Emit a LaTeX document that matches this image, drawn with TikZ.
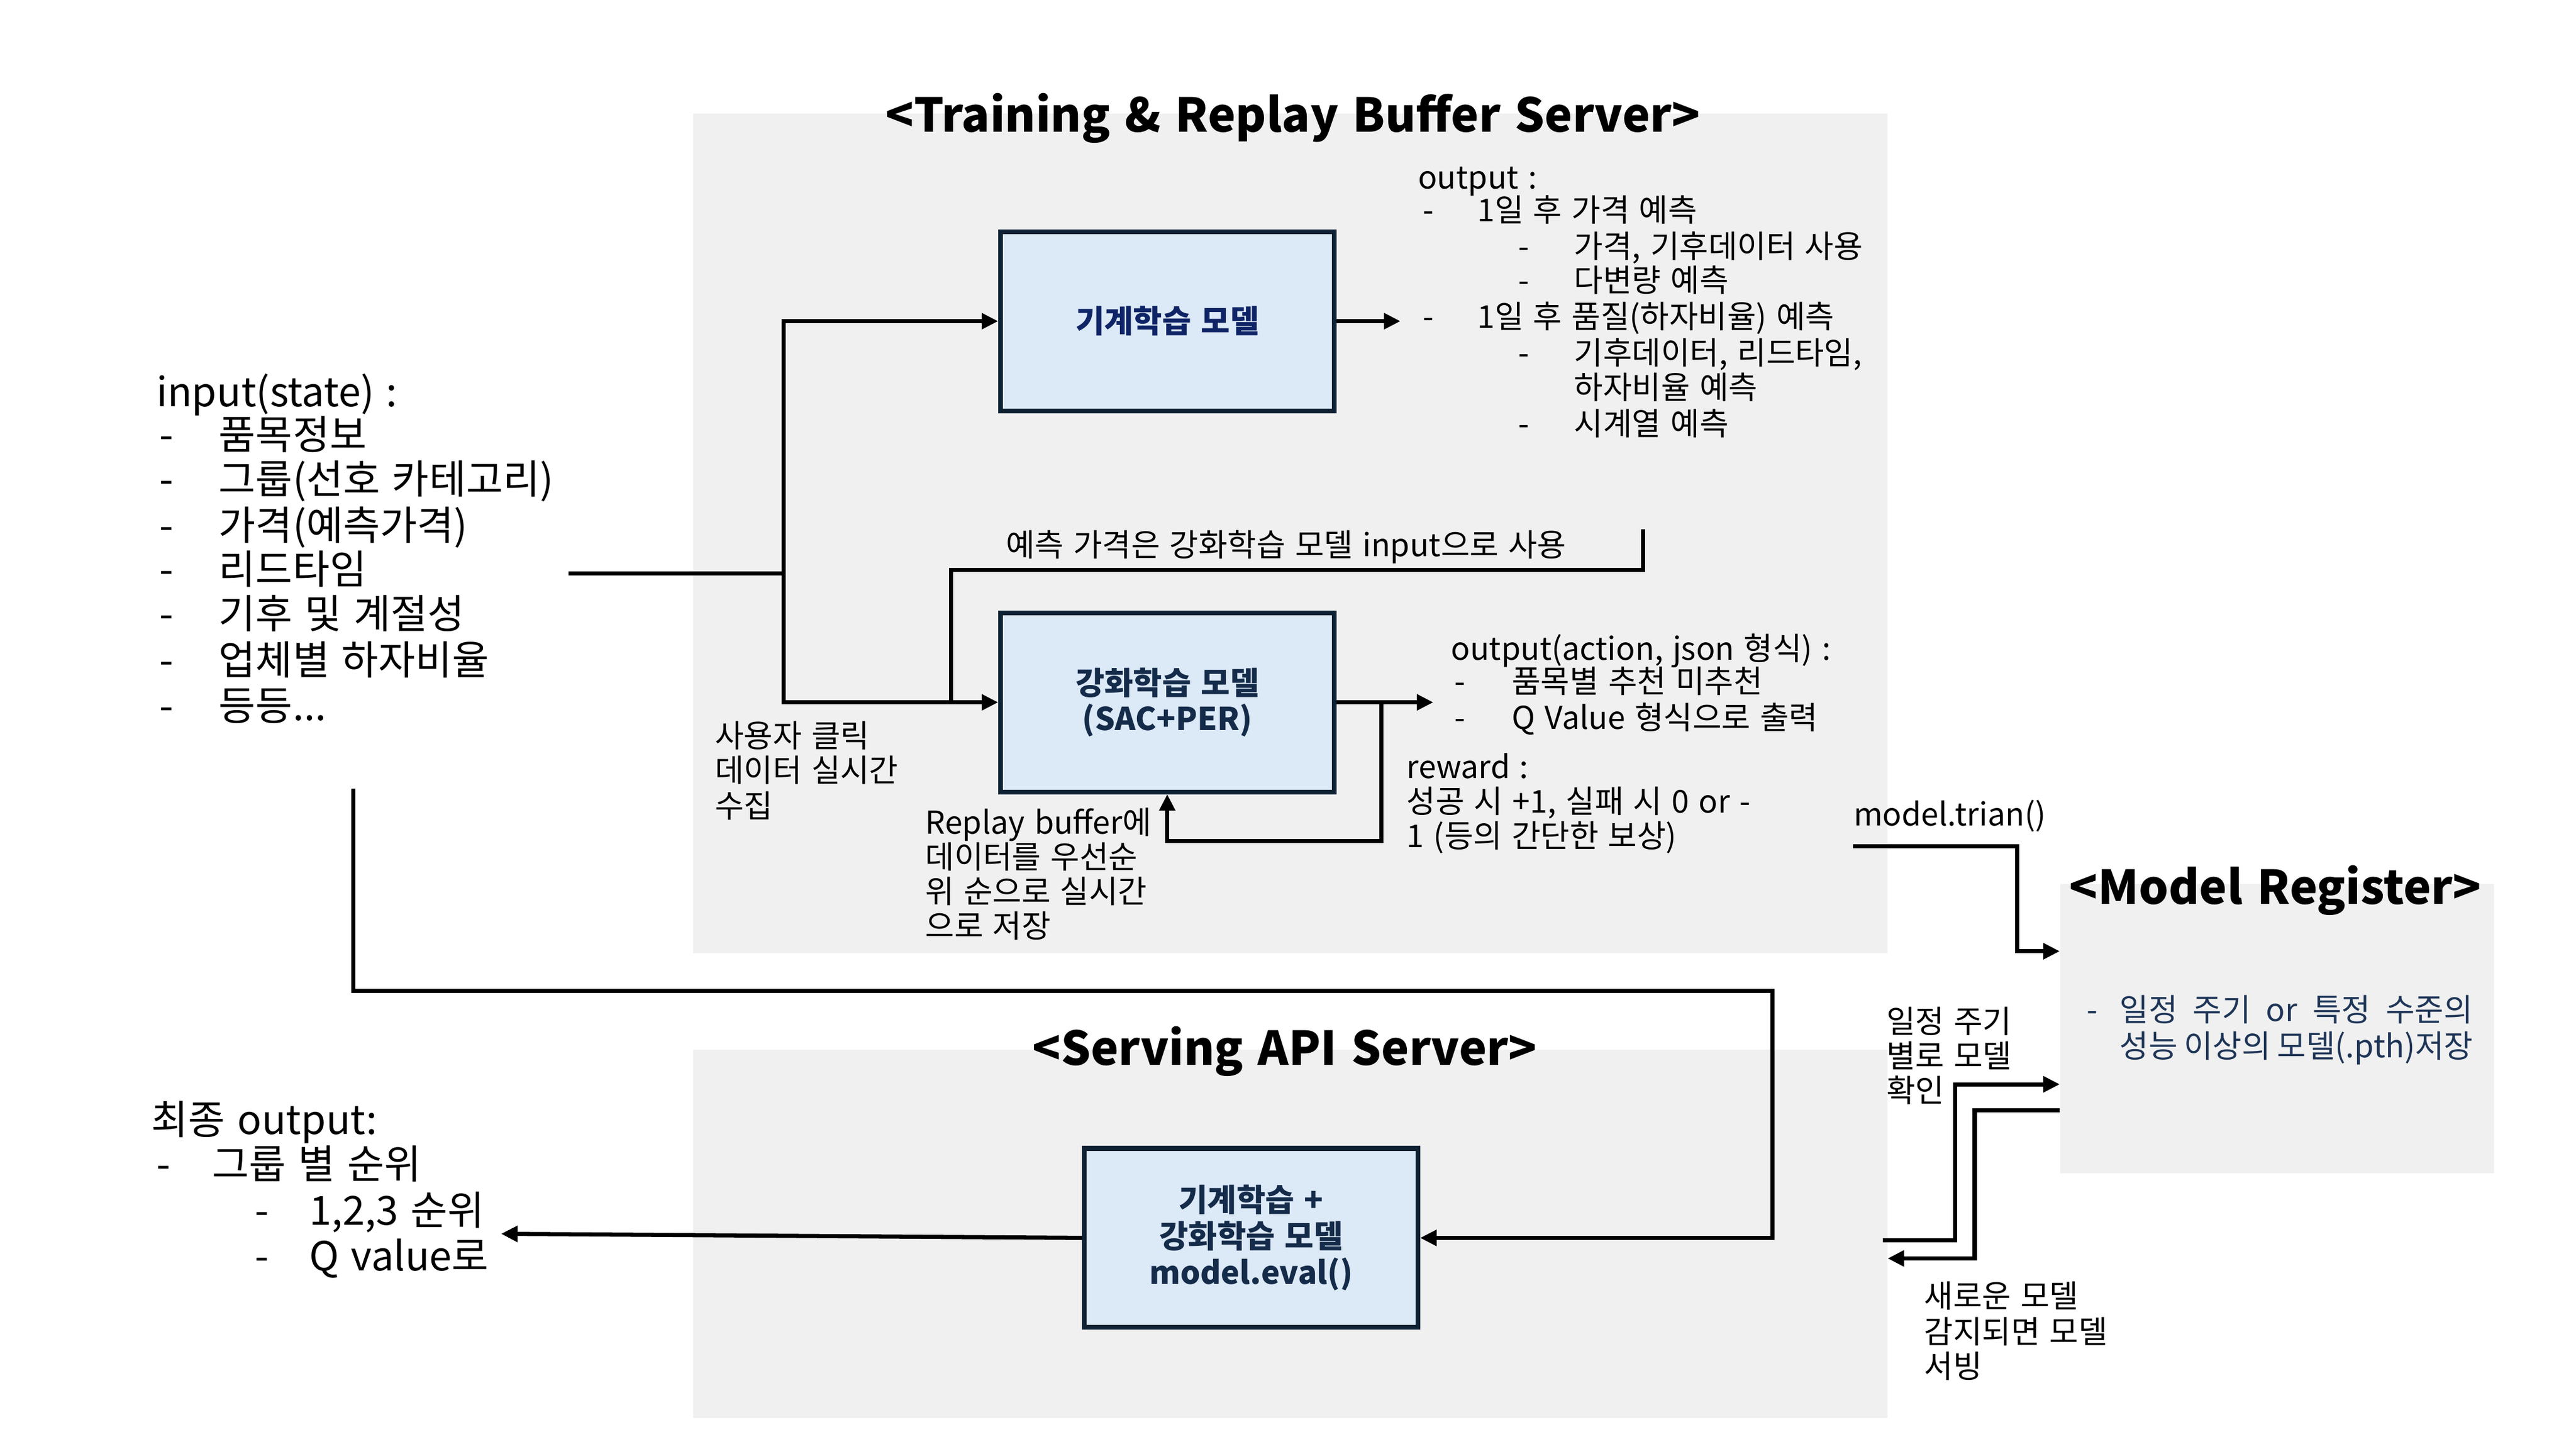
\documentclass[tikz,border=0pt]{standalone}
\usepackage{fontspec}
\newfontfamily\kr[WordSpace=1.35]{Noto Sans CJK KR}
\usetikzlibrary{arrows.meta}
\definecolor{panelgray}{HTML}{F0F0F0}
\definecolor{boxfill}{HTML}{DCE9F6}
\definecolor{boxline}{HTML}{0E2233}
\definecolor{boxtxtA}{HTML}{0F2466}
\definecolor{boxtxtB}{HTML}{142B4A}
\definecolor{regtxt}{HTML}{1E3557}
\tikzset{
  panel/.style={fill=panelgray, draw=none, inner sep=0pt, rectangle},
  mbox/.style={fill=boxfill, draw=boxline, line width=2.3pt, inner sep=0pt, align=center,
               minimum width=5.696cm, minimum height=3.059cm,
               font=\kr\bfseries\fontsize{15.3}{17.6}\selectfont},
  ttl/.style={anchor=base, inner sep=0pt, font=\kr\bfseries\fontsize{22.7}{27}\selectfont},
  sm/.style={anchor=base west, inner sep=0pt, font=\kr\fontsize{15.3}{17}\selectfont},
  bg/.style={anchor=base west, inner sep=0pt, font=\kr\fontsize{19.5}{21.7}\selectfont},
  conn/.style={line width=2pt, draw=black},
  arr/.style={conn, -{Triangle[length=8pt,width=7.5pt]}},
}
\begin{document}
\begin{tikzpicture}[x=0.02806cm, y=-0.02806cm]
\useasboundingbox (0,0) rectangle (1568,882);
\fill[white] (0,0) rectangle (1568,882);

% panels
\node[panel, minimum width=20.40cm, minimum height=14.34cm] (train) at (785.5,324.5) {};
\node[panel, minimum width=20.40cm, minimum height=6.285cm] (serve) at (785.5,751) {};
\node[panel, minimum width=7.408cm, minimum height=4.939cm] (reg) at (1386,626) {};

% titles
\node[ttl] (t1) at (787,80.5) {<Training \& Replay Buffer Server>};
\node[ttl] (t2) at (782,648.5) {<Serving API Server>};
\node[ttl] (t3) at (1385,550.5) {<Model Register>};

% boxes
\node[mbox, text=boxtxtA] (b1) at (710.5,195.5) {기계학습 모델};
\node[mbox, text=boxtxtB] (b2) at (710.5,427.5) {강화학습 모델\\(SAC+PER)};
\node[mbox, text=boxtxtB, minimum height=3.059cm] (b3) at (761.5,753.5) {기계학습 +\\강화학습 모델\\model.eval()};

% input block
\node[bg] (in0) at (95,247.6) {input(state) :};
\node[bg] (ind1) at (97,273.6) {-};  \node[bg] (in1) at (133,273.6) {품목정보};
\node[bg] (ind2) at (97,300.6) {-};  \node[bg] (in2) at (133,300.6) {그룹(선호 카테고리)};
\node[bg] (ind3) at (97,328.6) {-};  \node[bg] (in3) at (133,328.6) {가격(예측가격)};
\node[bg] (ind4) at (97,355.6) {-};  \node[bg] (in4) at (133,355.6) {리드타임};
\node[bg] (ind5) at (97,382.6) {-};  \node[bg] (in5) at (133,382.6) {기후 및 계절성};
\node[bg] (ind6) at (97,410.6) {-};  \node[bg] (in6) at (133,410.6) {업체별 하자비율};
\node[bg] (ind7) at (97,438.6) {-};  \node[bg] (in7) at (133,438.6) {등등...};

% ML output block
\node[sm] (o0) at (863,114.8) {output :};
\node[sm] (od1) at (866,134.8) {-}; \node[sm] (o1) at (899,134.8) {1일 후 가격 예측};
\node[sm] (od2) at (924,156.8) {-}; \node[sm] (o2) at (958,156.8) {가격, 기후데이터 사용};
\node[sm] (od3) at (924,177.8) {-}; \node[sm] (o3) at (958,177.8) {다변량 예측};
\node[sm] (od4) at (866,199.8) {-}; \node[sm] (o4) at (899,199.8) {1일 후 품질(하자비율) 예측};
\node[sm] (od5) at (924,221.8) {-}; \node[sm] (o5) at (958,221.8) {기후데이터, 리드타임,};
\node[sm] (o6) at (958,242.8) {하자비율 예측};
\node[sm] (od7) at (924,264.8) {-}; \node[sm] (o7) at (958,264.8) {시계열 예측};

\node[sm] (pred) at (612,338.8) {예측 가격은 강화학습 모델 input으로 사용};

% RL output block
\node[sm] (r0) at (883,401.8) {output(action, json 형식) :};
\node[sm] (rd1) at (885,421.8) {-}; \node[sm] (r1) at (920,421.8) {품목별 추천 미추천};
\node[sm] (rd2) at (885,443.8) {-}; \node[sm] (r2) at (920,443.8) {Q Value 형식으로 출력};
\node[sm] (rw0) at (856,473.8) {reward :};
\node[sm] (rw1) at (856,494.8) {성공 시 +1, 실패 시 0 or -};
\node[sm] (rw2) at (856,515.8) {1 (등의 간단한 보상)};

\node[sm] (u1) at (435,454.8) {사용자 클릭};
\node[sm] (u2) at (435,475.8) {데이터 실시간};
\node[sm] (u3) at (435,497.8) {수집};

\node[sm] (rp1) at (563,507.8) {Replay buffer에};
\node[sm] (rp2) at (563,528.8) {데이터를 우선순};
\node[sm] (rp3) at (563,549.8) {위 순으로 실시간};
\node[sm] (rp4) at (563,570.8) {으로 저장};

\node[sm] (mtl) at (1128,502.8) {model.trian()};

\node[sm] (ck1) at (1148,628.8) {일정 주기};
\node[sm] (ck2) at (1148,649.8) {별로 모델};
\node[sm] (ck3) at (1148,670.8) {확인};

\node[sm] (nw1) at (1171,795.8) {새로운 모델};
\node[sm] (nw2) at (1171,817.8) {감지되면 모델};
\node[sm] (nw3) at (1171,838.8) {서빙};

\node[sm, text=regtxt] (rgd) at (1270,621.8) {-};
\node[sm, text=regtxt] (rg1) at (1290,621.8) {\makebox[6.03cm][s]{일정 주기 or 특정 수준의}};
\node[sm, text=regtxt] (rg2) at (1290,643.8) {\makebox[5.98cm][s]{성능 이상의 모델(.pth)저장}};

% final output block
\node[bg] (f0) at (92,690.6) {최종 output:};
\node[bg] (fd1) at (95,717.6) {-}; \node[bg] (f1) at (129,717.6) {그룹 별 순위};
\node[bg] (fd2) at (155,745.6) {-}; \node[bg] (f2) at (188,745.6) {1,2,3 순위};
\node[bg] (fd3) at (155,773.6) {-}; \node[bg] (f3) at (188,773.6) {Q value로};

% coordinates
\coordinate (inR) at (346,349);
\coordinate (j1) at (477,349);
\coordinate (p0) at (1000,322);
\coordinate (p1) at (579,427.5);
\coordinate (fb) at (841,427.5);
\coordinate (fbb) at (841,512);
\coordinate (s0) at (215,480);
\coordinate (s1) at (1079,603);
\coordinate (fo) at (305,751);
\coordinate (mt0) at (1128,515);
\coordinate (mt1) at (1228,579);
\coordinate (ck0) at (1146,755);
\coordinate (ck1c) at (1190,660);
\coordinate (nwc) at (1202,766);
\coordinate (nwe) at (1149,766);

% connectors
\draw[conn] (inR) -- (j1);
\draw[arr] (j1) |- (b1.west);
\draw[arr] (j1) |- (b2.west);
\draw[conn] (p0) -- ++(0,25) -| (p1);
\draw[arr] (b1.east) -- ++(39,0);
\draw[arr] (b2.east) -- ++(59,0);
\draw[arr] (fb) -- (fbb) -| (b2.south);
\draw[arr] (s0) |- (s1) |- (b3.east);
\draw[arr] (b3.west) -- (fo);
\draw[arr] (mt0) -| (mt1) -- (reg.west |- mt1);
\draw[arr] (ck0) -| (ck1c) -- (reg.west |- ck1c);
\draw[arr] (reg.west |- 0,676) -| (nwc) -- (nwe);
\end{tikzpicture}
\end{document}
